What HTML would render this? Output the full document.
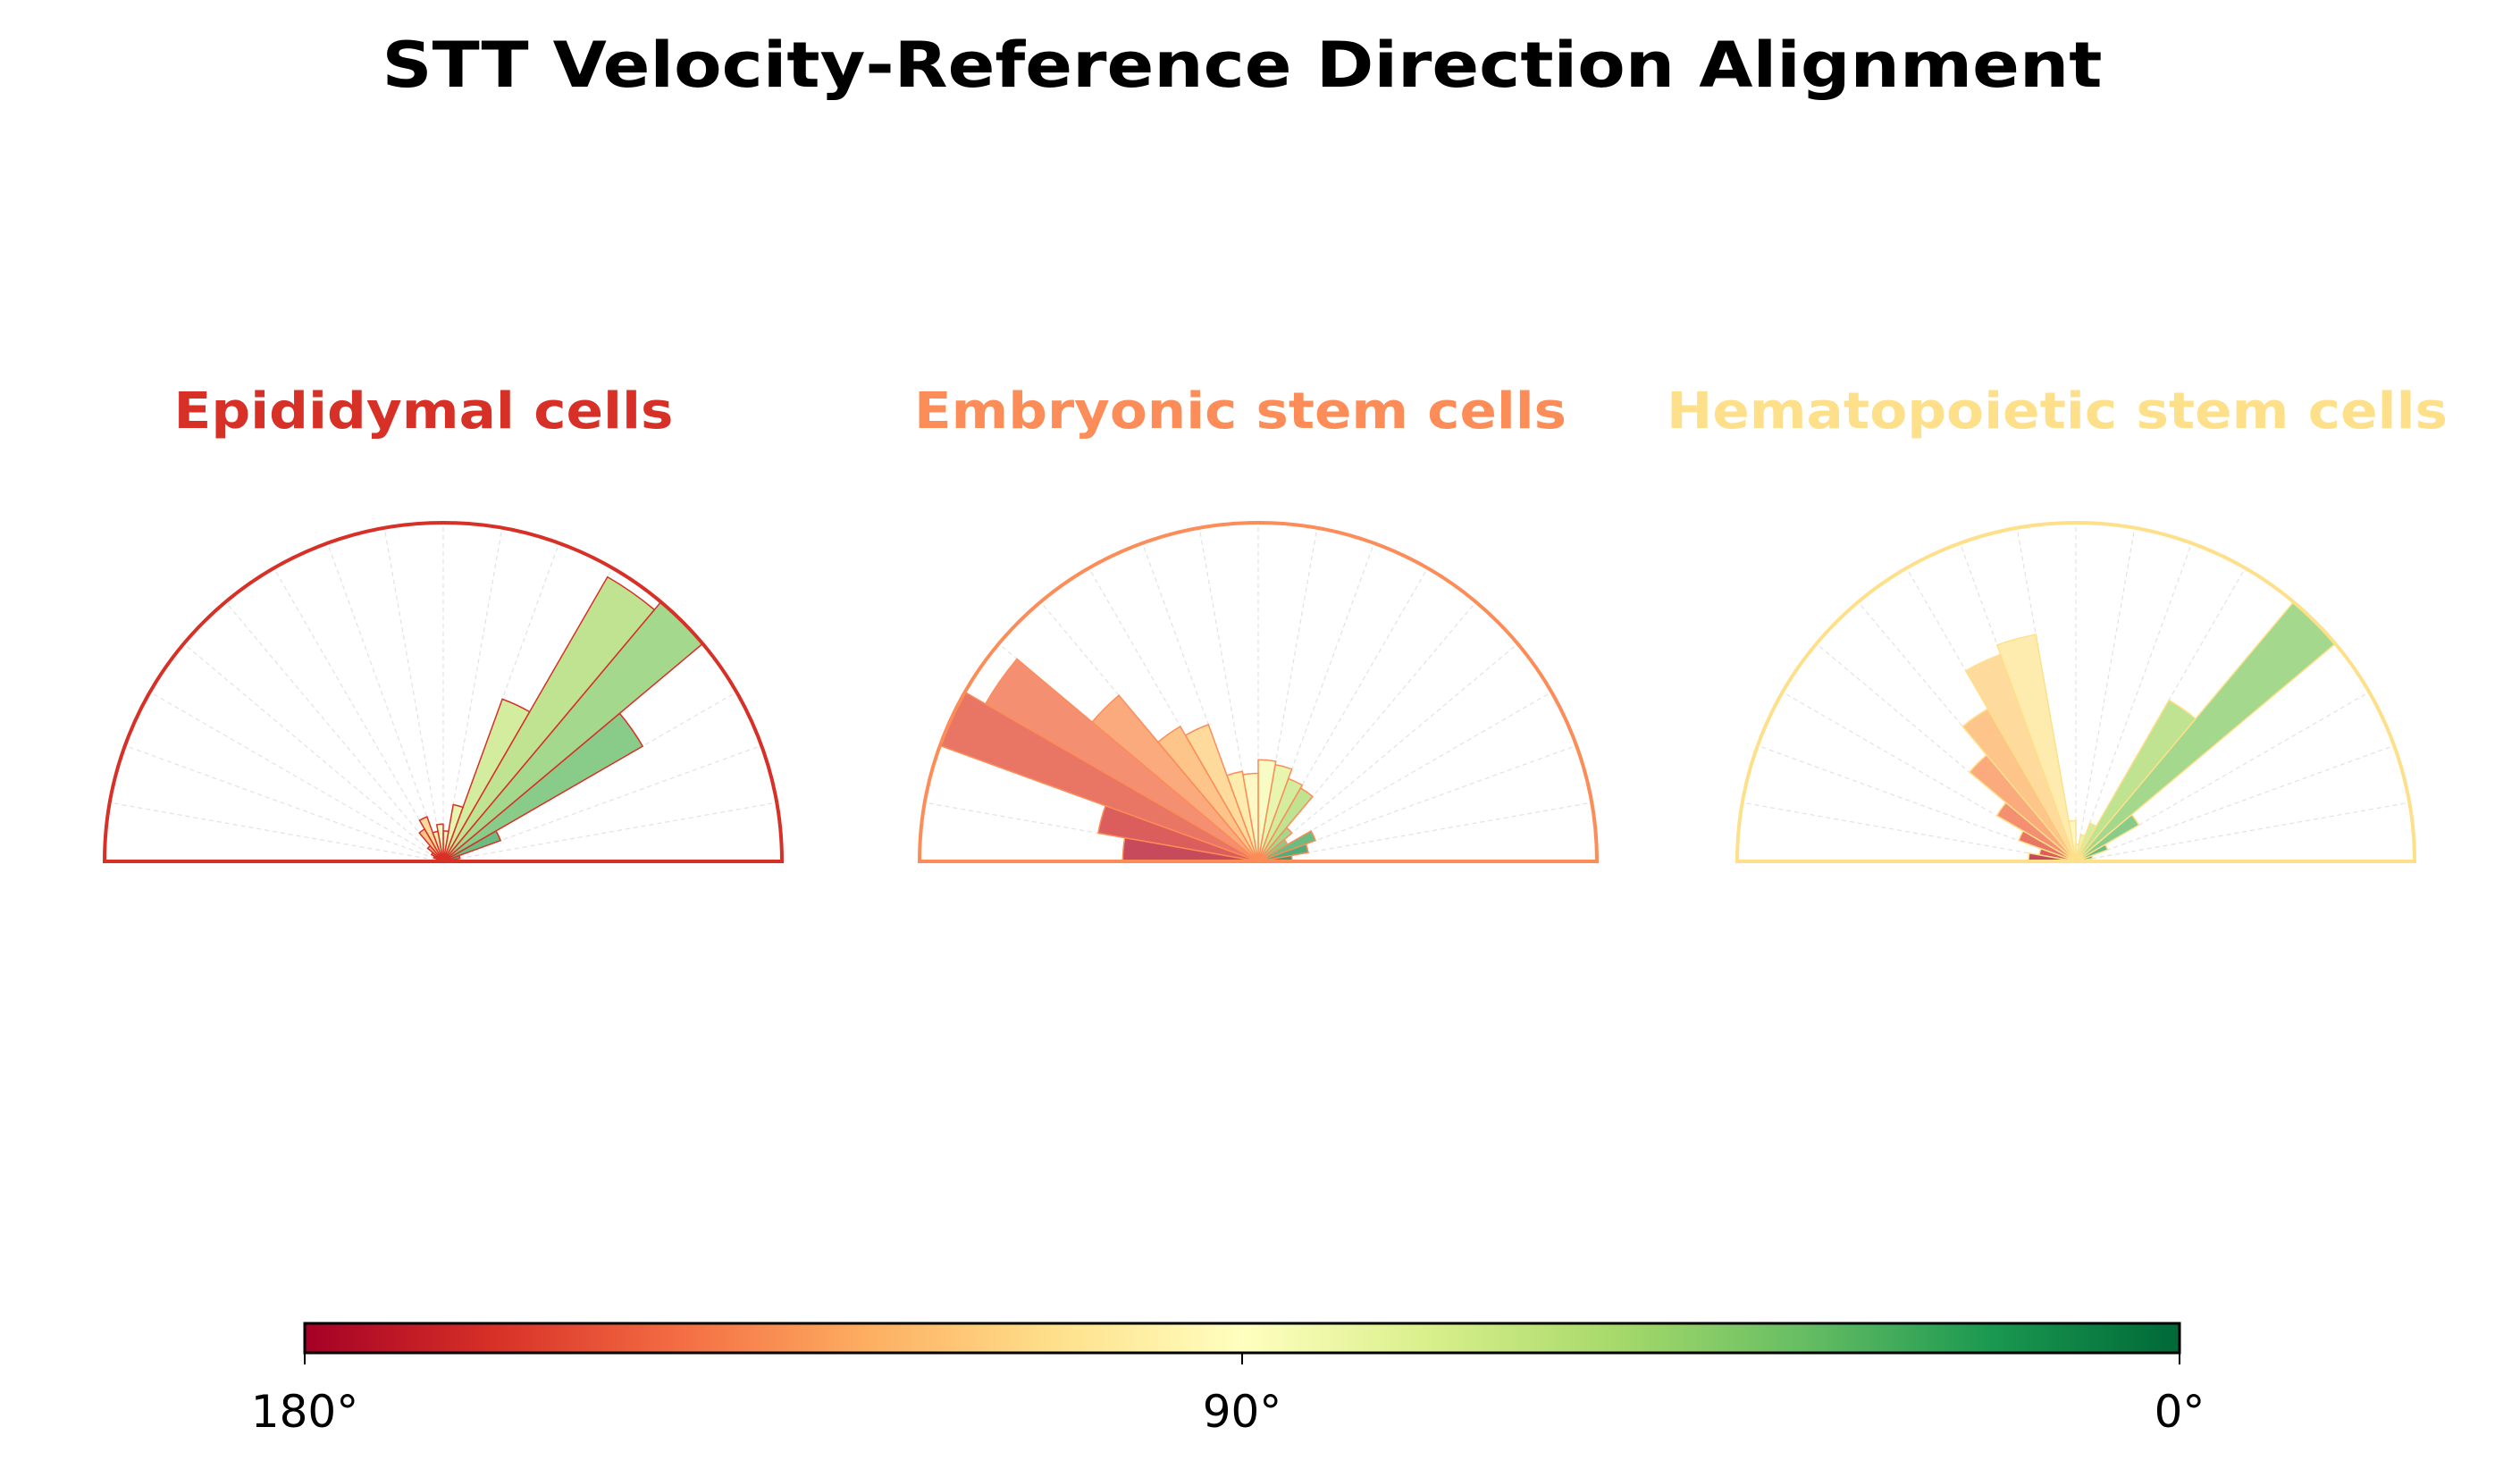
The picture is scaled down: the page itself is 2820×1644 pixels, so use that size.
<!DOCTYPE html>
<html><head><meta charset="utf-8"><style>
html,body{margin:0;padding:0;background:#fff}
svg{display:block}
</style></head><body>
<svg id="fig" width="2820" height="1644" viewBox="0 0 2820 1644" xmlns="http://www.w3.org/2000/svg">
<defs>
<linearGradient id="cbgrad" x1="0" x2="1" y1="0" y2="0">
<stop offset="0" stop-color="#a50026"/><stop offset="0.1" stop-color="#d73027"/><stop offset="0.2" stop-color="#f46d43"/><stop offset="0.3" stop-color="#fdae61"/><stop offset="0.4" stop-color="#fee08b"/><stop offset="0.5" stop-color="#ffffbf"/><stop offset="0.6" stop-color="#d9ef8b"/><stop offset="0.7" stop-color="#a6d96a"/><stop offset="0.8" stop-color="#66bd63"/><stop offset="0.9" stop-color="#1a9850"/><stop offset="1" stop-color="#006837"/>
</linearGradient>
</defs>
<text x="1390" y="97" text-anchor="middle" font-family="DejaVu Sans, Liberation Sans, sans-serif" font-weight="bold" font-size="70" textLength="1925" lengthAdjust="spacingAndGlyphs">STT Velocity-Reference Direction Alignment</text>
<g id="panels"></g>
<rect x="341" y="1481" width="2098" height="33" fill="url(#cbgrad)" stroke="#000" stroke-width="3"/>
<g id="cbticks"></g>
</svg>
<script>
const binCenters = [5,15,25,35,45,55,65,75,85,95,105,115,125,135,145,155,165,175];
const panelNames = ["Epididymal cells","Embryonic stem cells","Hematopoietic stem cells"];
const epididymalValues = [0.02,0.05,0.18,0.68,1.0,0.97,0.51,0.17,0.09,0.11,0.09,0.14,0.11,0.06,0.04,0.03,0.02,0.02];
const embryonicValues = [0.10,0.15,0.18,0.10,0.13,0.25,0.26,0.29,0.30,0.26,0.27,0.43,0.46,0.64,0.93,1.0,0.48,0.40];
const hematopoieticValues = [0.03,0.05,0.10,0.215,1.0,0.55,0.12,0.08,0.05,0.12,0.68,0.65,0.52,0.41,0.27,0.18,0.11,0.14];
const cbTickLabels = ["180°","90°","0°"];
const cbTickAngles = [180,90,0];

const NS="http://www.w3.org/2000/svg";
const stops=["#a50026","#d73027","#f46d43","#fdae61","#fee08b","#ffffbf","#d9ef8b","#a6d96a","#66bd63","#1a9850","#006837"];
function hex(h){return [1,3,5].map(i=>parseInt(h.substr(i,2),16));}
function cmap(t){t=Math.max(0,Math.min(1,t));const p=t*10,i=Math.min(9,Math.floor(p)),f=p-i;const a=hex(stops[i]),b=hex(stops[i+1]);return `rgb(${a.map((v,k)=>Math.round(v+(b[k]-v)*f)).join(',')})`;}
function colorForAngle(a){return cmap(1-a/180);}
const panels=[
 {name:"epididymal",vals:epididymalValues,cx:496,color:"#d73027",tx:474,tl:559},
 {name:"embryonic",vals:embryonicValues,cx:1408,color:"#fc8d59",tx:1388,tl:730},
 {name:"hematopoietic",vals:hematopoieticValues,cx:2323,color:"#fee08b",tx:2302,tl:874}];
const cy=964,R=379,binW=10;
function pt(cx,r,deg){const a=deg*Math.PI/180;return [cx+r*Math.cos(a),cy-r*Math.sin(a)];}
const root=document.getElementById('panels');
panels.forEach((p,pi)=>{
 const g=document.createElementNS(NS,'g');
 
 
 root.appendChild(g);
 const t=document.createElementNS(NS,'text');
 t.setAttribute('x',p.tx);t.setAttribute('y',479);t.setAttribute('text-anchor','middle');
 t.setAttribute('font-family','DejaVu Sans, Liberation Sans, sans-serif');t.setAttribute('font-weight','bold');
 t.setAttribute('font-size','56');t.setAttribute('fill',p.color);
 t.setAttribute('textLength',p.tl);t.setAttribute('lengthAdjust','spacingAndGlyphs');
 t.textContent=panelNames[pi];
 
 
 g.appendChild(t);
 for(let d=10;d<180;d+=10){
  const [x,y]=pt(p.cx,R,d);
  const l=document.createElementNS(NS,'line');
  l.setAttribute('x1',p.cx);l.setAttribute('y1',cy);l.setAttribute('x2',x);l.setAttribute('y2',y);
  l.setAttribute('stroke','#e2e2e2');l.setAttribute('stroke-width','1.2');l.setAttribute('stroke-dasharray','5,4');
  
  
  g.appendChild(l);
 }
 binCenters.forEach((c,i)=>{
  const r=p.vals[i]*R;
  const [x1,y1]=pt(p.cx,r,c-binW/2),[x2,y2]=pt(p.cx,r,c+binW/2);
  const path=document.createElementNS(NS,'path');
  path.setAttribute('d',`M${p.cx},${cy} L${x1},${y1} A${r},${r} 0 0 0 ${x2},${y2} Z`);
  path.setAttribute('fill',colorForAngle(c));path.setAttribute('fill-opacity','0.75');
  path.setAttribute('stroke',p.color);path.setAttribute('stroke-width','1.5');
  
  
  g.appendChild(path);
 });
 const fr=document.createElementNS(NS,'path');
 fr.setAttribute('d',`M${p.cx-R},${cy} A${R},${R} 0 0 1 ${p.cx+R},${cy} Z`);
 fr.setAttribute('fill','none');fr.setAttribute('stroke',p.color);fr.setAttribute('stroke-width','4');
 
 
 g.appendChild(fr);
});
const tg=document.getElementById('cbticks');
cbTickAngles.forEach((a,i)=>{
 const x=341+(180-a)/180*2098;
 const l=document.createElementNS(NS,'line');
 l.setAttribute('x1',x);l.setAttribute('x2',x);l.setAttribute('y1',1514);l.setAttribute('y2',1527);
 l.setAttribute('stroke','#000');l.setAttribute('stroke-width','2');
 
 
 tg.appendChild(l);
 const t=document.createElementNS(NS,'text');
 t.setAttribute('x',x);t.setAttribute('y',1597);t.setAttribute('text-anchor','middle');
 t.setAttribute('font-family','DejaVu Sans, Liberation Sans, sans-serif');t.setAttribute('font-size','50');
 t.textContent=cbTickLabels[i];
 
 
 tg.appendChild(t);
});
</script>
</body></html>
